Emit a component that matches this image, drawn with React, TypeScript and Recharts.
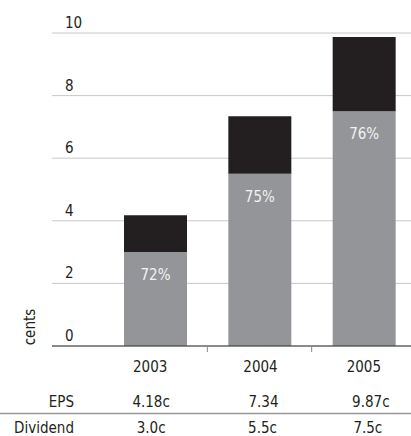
import React from "react";
import { BarChart, Bar, XAxis, YAxis, CartesianGrid, LabelList } from "recharts";

// Earnings and dividend per share, in cents
const years = ["2003", "2004", "2005"];
const eps = [4.18, 7.34, 9.87];
const dividend = [3.0, 5.5, 7.5];
const epsText = ["4.18c", "7.34", "9.87c"];
const dividendText = ["3.0c", "5.5c", "7.5c"];
const yTicks = [0, 2, 4, 6, 8, 10];

const data = years.map((year, i) => ({
  year,
  dividend: dividend[i],
  retained: +(eps[i] - dividend[i]).toFixed(2),
  payout: Math.round((dividend[i] / eps[i]) * 100),
}));

const FONT = '"DejaVu Sans Condensed", "Liberation Sans Narrow", sans-serif';
const FS = 15;
const INK = "#231f20";
const GREY_BAR = "#939598";
const GRID = "#c8c8c8";

// small horizontal nudges for the table columns under each bar
const yearNudge = [-5, 1, 0];
const epsNudge = [-4, 4, 7];
const divNudge = [-4, 3, 4];

const YTick = (props: any) => {
  const { y, payload } = props;
  return (
    <g>
      <text x={65} y={y - 5} fill={INK} fontSize={FS} fontFamily={FONT} textAnchor="start">
        {payload.value}
      </text>
      {payload.value === 0 && (
        <text
          x={35}
          y={y - 19}
          fill={INK}
          fontSize={FS}
          fontFamily={FONT}
          textAnchor="middle"
          transform={`rotate(-90, 35, ${y - 19})`}
        >
          cents
        </text>
      )}
    </g>
  );
};

const XTick = (props: any) => {
  const { x, y, payload, index } = props;
  const half = payload.offset ?? 52;
  return (
    <g>
      {index > 0 && <line x1={x - half} x2={x - half} y1={y} y2={y + 6} stroke="#888" strokeWidth={1} />}
      {index === 0 && (
        <g>
          <text x={74} y={y + 61} fill={INK} fontSize={FS} fontFamily={FONT} textAnchor="end">EPS</text>
          <line x1={0} x2={416} y1={y + 67.5} y2={y + 67.5} stroke="#999" strokeWidth={1.5} />
          <text x={74} y={y + 87} fill={INK} fontSize={FS} fontFamily={FONT} textAnchor="end">Dividend</text>
        </g>
      )}
      <text x={x + yearNudge[index]} y={y + 26} fill={INK} fontSize={FS} fontFamily={FONT} textAnchor="middle">
        {payload.value}
      </text>
      <text x={x + epsNudge[index]} y={y + 61} fill={INK} fontSize={FS} fontFamily={FONT} textAnchor="middle">
        {epsText[index]}
      </text>
      <text x={x + divNudge[index]} y={y + 87} fill={INK} fontSize={FS} fontFamily={FONT} textAnchor="middle">
        {dividendText[index]}
      </text>
    </g>
  );
};

const PayoutLabel = (props: any) => {
  const { x, y, width, value } = props;
  return (
    <text x={x + width / 2} y={y + 28} fill="#f2f2f2" fontSize={FS} fontFamily={FONT} textAnchor="middle">
      {value}%
    </text>
  );
};

export default function App() {
  return (
    <div style={{ position: "absolute", left: 0, top: 0, width: 411, height: 436, overflow: "hidden", background: "#fff" }}>
      <BarChart width={416} height={436} data={data} margin={{ top: 33, right: 0, bottom: 0, left: 0 }}>
        <CartesianGrid vertical={false} stroke={GRID} strokeWidth={1} />
        <YAxis
          width={52}
          domain={[0, 10]}
          ticks={yTicks}
          axisLine={false}
          tickLine={false}
          tick={<YTick />}
        />
        <XAxis
          dataKey="year"
          height={90}
          padding={{ left: 51, right: 0 }}
          axisLine={{ stroke: "#333", strokeWidth: 1 }}
          tickLine={false}
          tickSize={0}
          tickMargin={0}
          interval={0}
          tick={<XTick />}
        />
        <Bar dataKey="dividend" stackId="a" fill={GREY_BAR} barSize={63} isAnimationActive={false}>
          <LabelList dataKey="payout" content={<PayoutLabel />} />
        </Bar>
        <Bar dataKey="retained" stackId="a" fill={INK} barSize={63} isAnimationActive={false} />
      </BarChart>
    </div>
  );
}
